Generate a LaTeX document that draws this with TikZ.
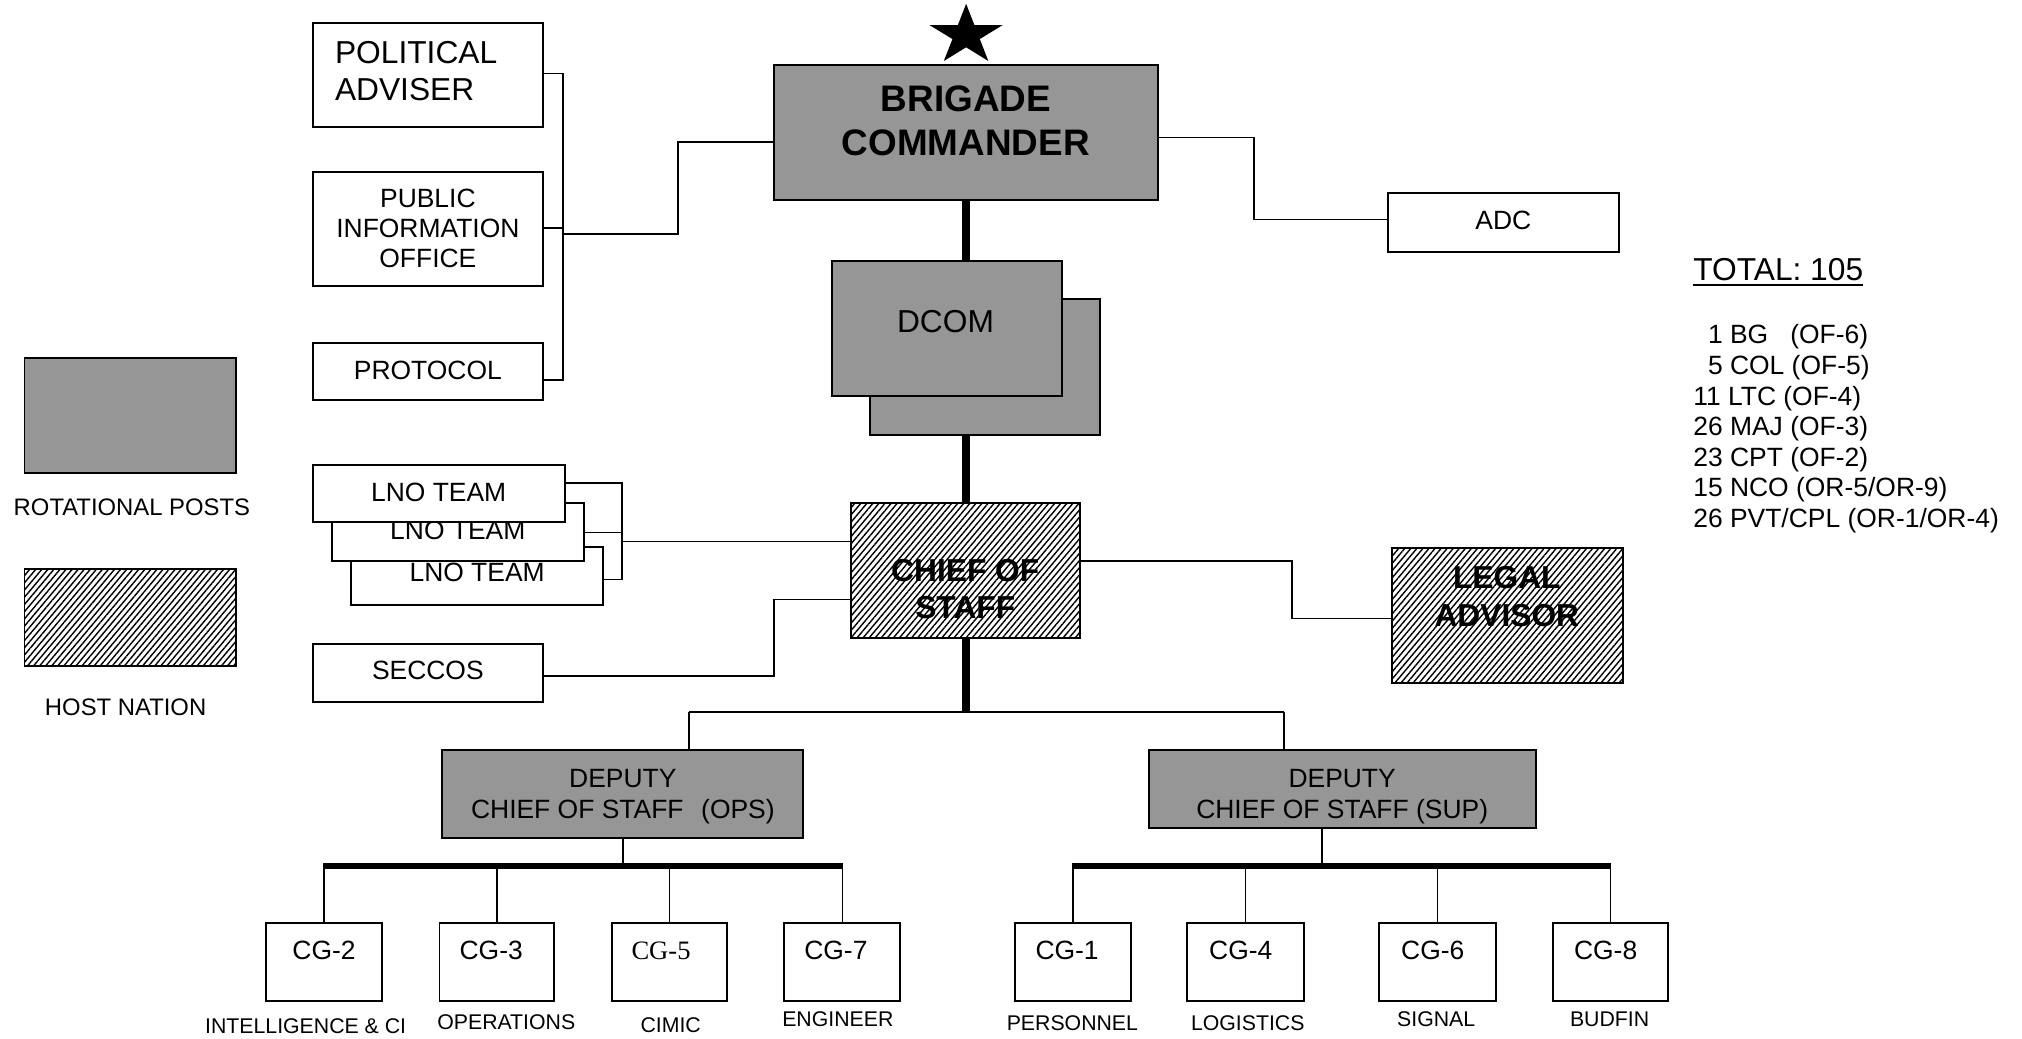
\documentclass[tikz,border=0pt]{standalone}
\usepackage{fontspec}
\setmainfont{Liberation Sans}
\newfontfamily\tnrfont{Liberation Serif}
\usetikzlibrary{patterns.meta}
\definecolor{rotgray}{RGB}{150,150,150}
\newcommand\bx[6]{\node[#2,minimum width={#5pt-#3pt},minimum height={#6pt-#4pt}] (#1) at (#3,#4) {};}
\newcommand\tx[5]{\node[#2] (#1) at (#3,#4) {#5};}
\begin{document}
\begin{tikzpicture}[x=1pt,y=-1pt,
  wbox/.style={draw=black,line width=1.5pt,fill=white,inner sep=0pt,outer sep=0pt,anchor=north west},
  gbox/.style={wbox,fill=rotgray},
  hbox/.style={wbox,fill=none,pattern={Lines[angle=50,distance=3.6pt,line width=1.1pt]}},
  ln/.style={line width=1.3pt},
  thk/.style={line width=6pt},
  barl/.style={line width=5.2pt},
  t16/.style={inner sep=0pt,font=\fontsize{16.5pt}{19pt}\selectfont,text height=11.8pt,text depth=0pt},
  t18/.style={inner sep=0pt,font=\fontsize{18.5pt}{21pt}\selectfont,text height=13.2pt,text depth=0pt},
  t20/.style={inner sep=0pt,font=\fontsize{20.5pt}{23.5pt}\selectfont,text height=14.7pt,text depth=0pt},
  t24/.style={inner sep=0pt,font=\fontsize{24.6pt}{28pt}\selectfont,text height=17.6pt,text depth=0pt},
  b24/.style={inner sep=0pt,font=\bfseries\fontsize{24.6pt}{28pt}\selectfont,text height=17.6pt,text depth=0pt},
  b28/.style={inner sep=0pt,font=\bfseries\fontsize{28.6pt}{33pt}\selectfont,text height=20.5pt,text depth=0pt},
  lst/.style={t20,anchor=west}
]
\fill[white] (0,0) rectangle (1568,805);
\useasboundingbox (0,0) rectangle (1568,805);

% star
\fill[black] (749.2,3) -- (755.6,19.4) -- (777.6,19.4) -- (759.8,30.3) -- (766.4,47.3)
  -- (749.2,36.7) -- (731.9,47.3) -- (738.6,30.3) -- (720.7,19.4) -- (742.8,19.4) -- cycle;

% legend
\bx{legg}{gbox}{19}{277.9}{183.3}{367}
\tx{legg-t}{t18}{102.3}{392.9}{ROTATIONAL POSTS}
\bx{legh}{hbox}{19}{441.3}{183.3}{516.2}
\tx{legh-t}{t18}{97.4}{548}{HOST NATION}

% top-left staff
\bx{pa}{wbox}{242.6}{18.1}{421.4}{98.2}
\node[t24,anchor=west] (pa-t1) at (259.6,40.1) {POLITICAL};
\node[t24,anchor=west] (pa-t2) at (259.6,69) {ADVISER};
\bx{pio}{wbox}{242.6}{133.1}{421.4}{221.8}
\tx{pio-t1}{t20}{331.8}{153.4}{PUBLIC}
\tx{pio-t2}{t20}{331.8}{176.7}{INFORMATION}
\tx{pio-t3}{t20}{331.8}{200.3}{OFFICE}
\bx{proto}{wbox}{242.6}{265.7}{421.4}{310.2}
\tx{proto-t}{t20}{331.8}{286.9}{PROTOCOL}

% commander
\bx{brig}{gbox}{600}{50.5}{898}{155.1}
\tx{brig-t1}{b28}{749}{76.6}{BRIGADE}
\tx{brig-t2}{b28}{749}{110.5}{COMMANDER}

% ADC
\bx{adc}{wbox}{1076.3}{149.8}{1255.2}{195.3}
\tx{adc-t}{t20}{1165.8}{170.8}{ADC}

% DCOM
\bx{dcomb}{gbox}{674.6}{231.9}{853}{337}
\bx{dcomf}{gbox}{645}{202.4}{823.4}{307.1}
\tx{dcom-t}{t24}{733.2}{249.4}{DCOM}

% total
\node[t24,anchor=west] (tot) at (1312.9,208.8) {TOTAL: 105};
\draw[line width=1.5pt] (tot.west |- 0,221) -- (tot.east |- 0,221);
\node[lst] (l1) at (1312.9,259.4) {\hphantom{1}1 BG\ \ \ (OF-6)};
\node[lst] (l2) at (1312.9,283) {\hphantom{1}5 COL (OF-5)};
\node[lst] (l3) at (1312.9,306.8) {11 LTC (OF-4)};
\node[lst] (l4) at (1312.9,330.5) {26 MAJ (OF-3)};
\node[lst] (l5) at (1312.9,354.2) {23 CPT (OF-2)};
\node[lst] (l6) at (1312.9,378) {15 NCO (OR-5/OR-9)};
\node[lst] (l7) at (1312.9,401.7) {26 PVT/CPL (OR-1/OR-4)};

% LNO stack
\bx{lno3}{wbox}{272}{424.4}{467.9}{469.3}
\tx{lno3-t}{t20}{370}{443.8}{LNO TEAM}
\bx{lno2}{wbox}{257.3}{390.3}{452.6}{435}
\tx{lno2-t}{t20}{355}{410.8}{LNO TEAM}
\bx{lno1}{wbox}{242.6}{360.6}{438.2}{404.8}
\tx{lno1-t}{t20}{340.2}{381.3}{LNO TEAM}

% SECCOS
\bx{seccos}{wbox}{242.6}{499.2}{421.4}{544.1}
\tx{seccos-t}{t20}{331.8}{519.8}{SECCOS}

% chief of staff
\bx{cos}{hbox}{660}{390.3}{837.8}{495}
\tx{cos-t1}{b24}{748.5}{442}{CHIEF OF}
\tx{cos-t2}{b24}{748.5}{471}{STAFF}

% legal
\bx{legal}{hbox}{1079.3}{424.7}{1258.3}{529.4}
\tx{legal-t1}{b24}{1168.5}{447.5}{LEGAL}
\tx{legal-t2}{b24}{1168.5}{477.3}{ADVISOR}

% deputies
\bx{dops}{gbox}{343}{581.8}{623}{650.1}
\tx{dops-t1}{t20}{483}{603}{DEPUTY}
\tx{dops-t2}{t20}{483}{627.3}{CHIEF OF STAFF\hspace{13.7pt}(OPS)}
\bx{dsup}{gbox}{891.3}{581.6}{1191}{641.9}
\tx{dsup-t1}{t20}{1040.8}{603}{DEPUTY}
\tx{dsup-t2}{t20}{1040.8}{627.3}{CHIEF OF STAFF (SUP)}

% CG boxes
\bx{cg2}{wbox}{206.4}{715.9}{296.2}{775.9}
\bx{cg3}{wbox}{340.8}{715.9}{429.8}{775.9}
\bx{cg5}{wbox}{474.6}{715.9}{563.8}{775.9}
\bx{cg7}{wbox}{608.3}{715.9}{698.2}{775.9}
\bx{cg1}{wbox}{786.8}{715.9}{876.9}{775.9}
\bx{cg4}{wbox}{920.7}{715.9}{1010.9}{775.9}
\bx{cg6}{wbox}{1069.6}{715.9}{1159.8}{775.9}
\bx{cg8}{wbox}{1204.2}{715.9}{1293.8}{775.9}
\tx{cg2-t}{t20}{251.3}{736.6}{CG-2}
\tx{cg3-t}{t20}{380.9}{736.6}{CG-3}
\node[inner sep=0pt,font=\tnrfont\fontsize{20.6pt}{23pt}\selectfont,text height=13.7pt,text depth=0pt] (cg5-t) at (512.6,737.2) {CG-5};
\tx{cg7-t}{t20}{648.2}{736.6}{CG-7}
\tx{cg1-t}{t20}{827.5}{736.6}{CG-1}
\tx{cg4-t}{t20}{962.2}{736.6}{CG-4}
\tx{cg6-t}{t20}{1111.1}{736.6}{CG-6}
\tx{cg8-t}{t20}{1245.1}{736.6}{CG-8}
\tx{cg2-l}{t16}{237}{795.5}{INTELLIGENCE \& CI}
\tx{cg3-l}{t16}{392.6}{792.2}{OPERATIONS}
\tx{cg5-l}{t16}{520.1}{794.8}{CIMIC}
\tx{cg7-l}{t16}{649.7}{790.4}{ENGINEER}
\tx{cg1-l}{t16}{831.6}{793.5}{PERSONNEL}
\tx{cg4-l}{t16}{967.6}{793.5}{LOGISTICS}
\tx{cg6-l}{t16}{1113.7}{790.4}{SIGNAL}
\tx{cg8-l}{t16}{1248.2}{790.1}{BUDFIN}

% ---- connectors ----
\draw[ln] (pa.east |- 0,57) -- (436.4,57) -- (436.4,294.7) -- (proto.east |- 0,294.7);
\draw[ln] (pio.east |- 0,176.6) -- (436.4,176.6);
\draw[ln] (436.4,181.7) -- (525.5,181.7) -- (525.5,109.9) -- (brig.west |- 0,109.9);
\draw[ln] (brig.east |- 0,106.6) -- (972.6,106.6) -- (972.6,170.3) -- (adc.west |- 0,170.3);
\draw[thk] (brig.south) -- (brig.south |- dcomf.north);
\draw[thk] (cos.north |- dcomb.south) -- (cos.north);
\draw[ln] (lno1.east |- 0,374.8) -- (482.5,374.8) -- (482.5,449.3) -- (lno3.east |- 0,449.3);
\draw[ln] (lno2.east |- 0,413) -- (482.5,413);
\draw[ln] (482.5,420) -- (cos.west |- 0,420);
\draw[ln] (seccos.east |- 0,524.2) -- (600,524.2) -- (600,464.8) -- (cos.west |- 0,464.8);
\draw[ln] (cos.east |- 0,434.8) -- (1002,434.8) -- (1002,479.5) -- (legal.west |- 0,479.5);
\draw[thk] (cos.south) -- (cos.south |- 0,551.9);
\draw[ln] (534.2,551.9) -- (995.8,551.9);
\draw[ln] (534.2,551.9) -- (dops.north -| 534.2,0);
\draw[ln] (995.8,551.9) -- (dsup.north -| 995.8,0);
% OPS branch
\draw[ln] (dops.south) -- (dops.south |- 0,671.5);
\draw[barl] (250.7,671.5) -- (653.4,671.5);
\foreach \n in {cg2,cg3,cg5,cg7}{\draw[ln] (\n.north) -- (\n.north |- 0,671.5);}
% SUP branch
\draw[ln] (dsup.south -| 1025.4,0) -- (1025.4,671.5);
\draw[barl] (831.3,671.5) -- (1249.6,671.5);
\foreach \n in {cg1,cg4,cg6,cg8}{\draw[ln] (\n.north) -- (\n.north |- 0,671.5);}
\end{tikzpicture}
\end{document}
